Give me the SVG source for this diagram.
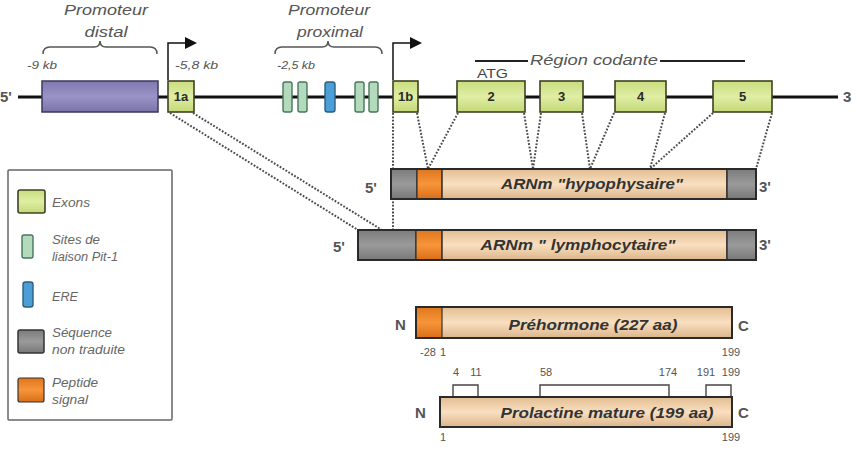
<svg xmlns="http://www.w3.org/2000/svg" width="857" height="454" viewBox="0 0 857 454">
<defs>
<linearGradient id="gBeige" x1="0" y1="0" x2="0" y2="1"><stop offset="0" stop-color="#e2bd92"/><stop offset="0.5" stop-color="#f9dfc0"/><stop offset="1" stop-color="#dcb58a"/></linearGradient>
<linearGradient id="gGray" x1="0" y1="0" x2="0" y2="1"><stop offset="0" stop-color="#7c7c7c"/><stop offset="0.5" stop-color="#9a9a9a"/><stop offset="1" stop-color="#787878"/></linearGradient>
<linearGradient id="gOrange" x1="0" y1="0" x2="0" y2="1"><stop offset="0" stop-color="#e0761c"/><stop offset="0.5" stop-color="#f7953a"/><stop offset="1" stop-color="#d96e18"/></linearGradient>
<linearGradient id="gExon" x1="0" y1="0" x2="0" y2="1"><stop offset="0" stop-color="#c9dc7e"/><stop offset="0.5" stop-color="#dfeea4"/><stop offset="1" stop-color="#c4d878"/></linearGradient>
<linearGradient id="gPurple" x1="0" y1="0" x2="0" y2="1"><stop offset="0" stop-color="#8079b0"/><stop offset="0.5" stop-color="#9a93c6"/><stop offset="1" stop-color="#7b74aa"/></linearGradient>
</defs>
<style>
.exon{fill:url(#gExon);stroke:#3f4222;stroke-width:1.6}
.pit{fill:#b3dabd;stroke:#4a7658;stroke-width:1.4}
.ere{fill:#4c9fd6;stroke:#2c5f80;stroke-width:1.4}
.gray{fill:url(#gGray);stroke:#333;stroke-width:1.5}
.orange{fill:url(#gOrange);stroke:#333;stroke-width:1.2}
.beige{fill:url(#gBeige);stroke:#333;stroke-width:1.5}
.outline{fill:none;stroke:#2a2a2a;stroke-width:2}
.dot{fill:none;stroke:#4a4a4a;stroke-width:2;stroke-dasharray:1.8 1.6}
.brace{fill:none;stroke:#555;stroke-width:1.5}
.lbl{font-family:"Liberation Sans",Arial,sans-serif;font-style:italic;fill:#555}
.ex{font-family:"Liberation Sans",Arial,sans-serif;font-weight:bold;font-size:13px;fill:#2a2a2a;text-anchor:middle}
.end{font-family:"Liberation Sans",Arial,sans-serif;font-weight:bold;font-size:15px;fill:#555}
.name{font-family:"Liberation Sans",Arial,sans-serif;font-weight:bold;font-style:italic;font-size:14px;fill:#333;text-anchor:middle}
.num{font-family:"Liberation Sans",Arial,sans-serif;font-size:11px;fill:#555;text-anchor:middle}
.leg{font-family:"Liberation Sans",Arial,sans-serif;font-style:italic;font-size:12px;fill:#666}
</style>

<g id="connectors">
<line class="dot" x1="170" y1="113" x2="358" y2="230"/>
<line class="dot" x1="193" y1="113" x2="382" y2="230"/>
<line class="dot" x1="393" y1="113" x2="393" y2="230"/>
<line class="dot" x1="417" y1="113" x2="428" y2="169"/>
<line class="dot" x1="458" y1="113" x2="428" y2="169"/>
<line class="dot" x1="524" y1="113" x2="533" y2="169"/>
<line class="dot" x1="541" y1="113" x2="533" y2="169"/>
<line class="dot" x1="582" y1="113" x2="590" y2="169"/>
<line class="dot" x1="614" y1="113" x2="590" y2="169"/>
<line class="dot" x1="665" y1="113" x2="650" y2="169"/>
<line class="dot" x1="713" y1="113" x2="650" y2="169"/>
<line class="dot" x1="772" y1="113" x2="756" y2="169"/>
</g>

<g id="gene">
<line x1="18" y1="97" x2="838" y2="97" stroke="#111" stroke-width="3"/>
<text class="end" x="0" y="102">5'</text>
<text class="end" x="843" y="102">3</text>
</g>

<g id="promoteur-distal">
<text class="lbl" x="106" y="15" font-size="14" text-anchor="middle" textLength="84" lengthAdjust="spacingAndGlyphs">Promoteur</text>
<text class="lbl" x="106" y="37" font-size="14" text-anchor="middle" textLength="43" lengthAdjust="spacingAndGlyphs">distal</text>
<path class="brace" d="M43,54 Q43,47 50,47 L94,47 Q100,47 100,41 Q100,47 106,47 L150,47 Q157,47 157,54"/>
<text class="lbl" x="27" y="69" font-size="11" textLength="30" lengthAdjust="spacingAndGlyphs">-9 kb</text>
<rect x="42" y="81" width="116" height="31" fill="url(#gPurple)" stroke="#3b385e" stroke-width="1.5"/>
</g>

<g id="promoteur-proximal">
<text class="lbl" x="329" y="15" font-size="14" text-anchor="middle" textLength="82" lengthAdjust="spacingAndGlyphs">Promoteur</text>
<text class="lbl" x="330" y="37" font-size="14" text-anchor="middle" textLength="66" lengthAdjust="spacingAndGlyphs">proximal</text>
<path class="brace" d="M275,54 Q275,47 282,47 L322,47 Q328,47 328,41 Q328,47 334,47 L375,47 Q382,47 382,54"/>
<text class="lbl" x="277" y="69" font-size="11" textLength="38" lengthAdjust="spacingAndGlyphs">-2,5 kb</text>
<rect class="pit" x="283" y="82" width="9" height="30" rx="2"/>
<rect class="pit" x="298" y="82" width="9" height="30" rx="2"/>
<rect class="ere" x="325" y="82" width="10" height="30" rx="2.5"/>
<rect class="pit" x="355" y="82" width="9" height="30" rx="2"/>
<rect class="pit" x="369" y="82" width="9" height="30" rx="2"/>
</g>

<g id="exon-1a">
<path d="M168,80 V43 H186" fill="none" stroke="#111" stroke-width="1.5"/>
<polygon points="185,37 197,43 185,49" fill="#111"/>
<text class="lbl" x="175" y="69" font-size="11" textLength="43" lengthAdjust="spacingAndGlyphs">-5,8 kb</text>
<rect class="exon" x="168" y="81" width="26" height="31"/>
<text class="ex" x="181" y="101">1a</text>
</g>

<g id="exon-1b">
<path d="M393,80 V43 H411" fill="none" stroke="#111" stroke-width="1.5"/>
<polygon points="410,37 422,43 410,49" fill="#111"/>
<rect class="exon" x="393" y="81" width="25" height="31"/>
<text class="ex" x="405.5" y="101">1b</text>
</g>

<g id="region-codante">
<line x1="475" y1="61" x2="528" y2="61" stroke="#222" stroke-width="1.8"/>
<line x1="660" y1="61" x2="745" y2="61" stroke="#222" stroke-width="1.8"/>
<text class="lbl" x="530" y="65" font-size="14" textLength="128" lengthAdjust="spacingAndGlyphs">Région codante</text>
<text x="477" y="78" font-family="Liberation Sans, Arial, sans-serif" font-size="12" fill="#444" textLength="31" lengthAdjust="spacingAndGlyphs">ATG</text>
</g>

<g id="exon-2"><rect class="exon" x="457" y="81" width="68" height="31"/><text class="ex" x="491" y="101">2</text></g>
<g id="exon-3"><rect class="exon" x="540" y="81" width="43" height="31"/><text class="ex" x="561.5" y="101">3</text></g>
<g id="exon-4"><rect class="exon" x="615" y="81" width="51" height="31"/><text class="ex" x="640.5" y="101">4</text></g>
<g id="exon-5"><rect class="exon" x="713" y="81" width="59" height="31"/><text class="ex" x="742.5" y="101">5</text></g>

<g id="arnm-hypophysaire">
<rect class="gray" x="391" y="169" width="26" height="30"/>
<rect class="orange" x="417" y="169" width="25" height="30"/>
<rect class="beige" x="442" y="169" width="285" height="30"/>
<rect class="gray" x="727" y="169" width="29" height="30"/>
<rect class="outline" x="391" y="169" width="365" height="30"/>
<text class="name" x="592" y="189" textLength="182" lengthAdjust="spacingAndGlyphs">ARNm "hypophysaire"</text>
<text class="end" x="365" y="193">5'</text>
<text class="end" x="759" y="192">3'</text>
</g>

<g id="arnm-lymphocytaire">
<rect class="gray" x="358" y="230" width="58" height="30"/>
<rect class="orange" x="416" y="230" width="26" height="30"/>
<rect class="beige" x="442" y="230" width="285" height="30"/>
<rect class="gray" x="727" y="230" width="29" height="30"/>
<rect class="outline" x="358" y="230" width="398" height="30"/>
<text class="name" x="578" y="250" textLength="195" lengthAdjust="spacingAndGlyphs">ARNm " lymphocytaire"</text>
<text class="end" x="333" y="252">5'</text>
<text class="end" x="759" y="250">3'</text>
</g>

<g id="prehormone">
<rect class="beige" x="416" y="307" width="316" height="31"/>
<rect class="orange" x="416" y="307" width="26" height="31"/>
<rect class="outline" x="416" y="307" width="316" height="31"/>
<text class="name" x="593" y="330" textLength="169" lengthAdjust="spacingAndGlyphs">Préhormone (227 aa)</text>
<text class="end" x="395" y="330" font-size="16" fill="#444">N</text>
<text class="end" x="738" y="331" font-size="16" fill="#444">C</text>
<text class="num" x="428" y="356">-28</text>
<text class="num" x="443" y="356">1</text>
<text class="num" x="731" y="356">199</text>
</g>

<g id="prolactine-mature">
<path d="M453,397 V385 H478 V397 M540,397 V385 H669 V397 M706,397 V385 H731 V397" fill="none" stroke="#444" stroke-width="1.4"/>
<text class="num" x="456" y="376">4</text>
<text class="num" x="476" y="376">11</text>
<text class="num" x="546" y="376">58</text>
<text class="num" x="668" y="376">174</text>
<text class="num" x="706" y="376">191</text>
<text class="num" x="731" y="376">199</text>
<rect class="beige" x="440" y="397" width="292" height="30"/>
<rect class="outline" x="440" y="397" width="292" height="30"/>
<text class="name" x="607" y="418" textLength="213" lengthAdjust="spacingAndGlyphs">Prolactine mature (199 aa)</text>
<text class="end" x="415" y="418" font-size="16" fill="#444">N</text>
<text class="end" x="738" y="418" font-size="16" fill="#444">C</text>
<text class="num" x="443" y="441">1</text>
<text class="num" x="731" y="441">199</text>
</g>

<g id="legende">
<rect x="8" y="170" width="164" height="250" fill="#fff" stroke="#666" stroke-width="1.5" rx="1"/>
<rect class="exon" x="18" y="190" width="27" height="23" rx="2"/>
<text class="leg" x="52" y="207" textLength="38" lengthAdjust="spacingAndGlyphs">Exons</text>
<rect class="pit" x="22" y="235" width="11" height="23" rx="2"/>
<text class="leg" x="52" y="244" textLength="48" lengthAdjust="spacingAndGlyphs">Sites de</text>
<text class="leg" x="52" y="261" textLength="66" lengthAdjust="spacingAndGlyphs">liaison Pit-1</text>
<rect class="ere" x="23" y="282" width="10" height="25" rx="2.5"/>
<text class="leg" x="52" y="301" textLength="26" lengthAdjust="spacingAndGlyphs">ERE</text>
<rect class="gray" x="18" y="330" width="26" height="23" rx="2"/>
<text class="leg" x="52" y="337" textLength="60" lengthAdjust="spacingAndGlyphs">Séquence</text>
<text class="leg" x="52" y="354" textLength="73" lengthAdjust="spacingAndGlyphs">non traduite</text>
<rect class="orange" x="18" y="378" width="26" height="24" rx="2"/>
<text class="leg" x="52" y="387" textLength="46" lengthAdjust="spacingAndGlyphs">Peptide</text>
<text class="leg" x="52" y="404" textLength="36" lengthAdjust="spacingAndGlyphs">signal</text>
</g>
</svg>
